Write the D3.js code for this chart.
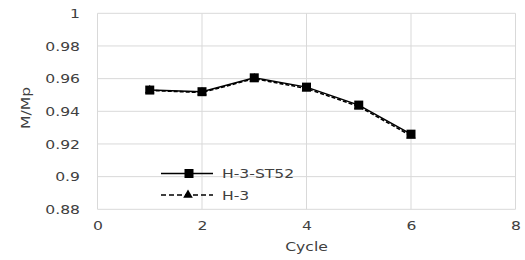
<!DOCTYPE html>
<html>
<head>
<meta charset="utf-8">
<script src="https://cdn.jsdelivr.net/npm/d3@7"></script>
<style>
  body { margin: 0; background: #fff; }
  svg { font-family: "DejaVu Sans", sans-serif; }
</style>
</head>
<body>
<svg width="525" height="260"></svg>
<script>
// данные графика
const cycles = [1, 2, 3, 4, 5, 6];
const h3st52 = [0.953, 0.952, 0.9605, 0.9548, 0.9438, 0.926];
const h3 = [0.9528, 0.9515, 0.960, 0.954, 0.943, 0.925];
const seriesNames = ["H-3-ST52", "H-3"];
const xTicks = [0, 2, 4, 6, 8];
const yTicks = [0.88, 0.9, 0.92, 0.94, 0.96, 0.98, 1];

const svg = d3.select("svg");
const area = { left: 97.5, right: 515.5, top: 13.3, bottom: 209.3 };
const txtColor = "#404040";
const stretch = 1.2; // шрифт в оригинале шире

const scX = d3.scaleLinear().domain([0, 8]).range([area.left, area.right]);
const scY = d3.scaleLinear().domain([0.88, 1]).range([area.bottom, area.top]);

// сетка
svg.append("g")
  .selectAll("line")
  .data(yTicks)
  .enter()
  .append("line")
  .attr("x1", area.left).attr("x2", area.right)
  .attr("y1", d => scY(d)).attr("y2", d => scY(d))
  .style("stroke", "#d9d9d9").style("stroke-width", 1);

svg.append("g")
  .selectAll("line")
  .data(xTicks)
  .enter()
  .append("line")
  .attr("x1", d => scX(d)).attr("x2", d => scX(d))
  .attr("y1", area.top).attr("y2", area.bottom)
  .style("stroke", "#d9d9d9").style("stroke-width", 1);

// подписи осей
const axisX = d3.axisBottom(scX).tickValues(xTicks).tickSize(0).tickPadding(11).tickFormat(d3.format("d"));
const axisY = d3.axisLeft(scY).tickValues(yTicks).tickSize(0).tickPadding(14.6).tickFormat(d => String(+d.toFixed(2)));

const gx = svg.append("g").attr("transform", `translate(0, ${area.bottom})`).call(axisX);
const gy = svg.append("g").attr("transform", `translate(${area.left}, 0)`).call(axisY);
[gx, gy].forEach(g => {
  g.select(".domain").remove();
  g.selectAll("text").style("font-size", "13px").style("fill", txtColor)
    .style("font-family", "'DejaVu Sans', sans-serif")
    .attr("transform", `scale(${stretch},1)`);
});

svg.append("text")
  .attr("transform", `translate(${(area.left + area.right) / 2}, 251) scale(${stretch},1)`)
  .attr("text-anchor", "middle")
  .style("font-size", "13px").style("fill", txtColor)
  .text("Cycle");

svg.append("text")
  .attr("transform", `translate(30, 108) rotate(-90) scale(${stretch},1)`)
  .attr("text-anchor", "middle")
  .style("font-size", "13px").style("fill", txtColor)
  .text("M/Mp");

// линии
const line = vals => d3.line().x((d, i) => scX(cycles[i])).y(d => scY(d))(vals);

svg.append("path")
  .attr("d", line(h3))
  .style("fill", "none").style("stroke", "#000").style("stroke-width", 1.6)
  .style("stroke-dasharray", "4,2");

svg.append("path")
  .attr("d", line(h3st52))
  .style("fill", "none").style("stroke", "#000").style("stroke-width", 1.5);

const tri = d3.symbol().type(d3.symbolTriangle).size(40);

svg.selectAll(".tri")
  .data(h3)
  .enter()
  .append("path")
  .attr("d", tri)
  .attr("transform", (d, i) => `translate(${scX(cycles[i])}, ${scY(d)})`)
  .style("fill", "#000");

const s = 9;
svg.selectAll(".sq")
  .data(h3st52)
  .enter()
  .append("rect")
  .attr("x", (d, i) => scX(cycles[i]) - s / 2)
  .attr("y", d => scY(d) - s / 2)
  .attr("width", s).attr("height", s)
  .style("fill", "#000");

// легенда
const leg = svg.append("g");
const legY = [173.5, 195];
legY.forEach((y, k) => {
  leg.append("line")
    .attr("x1", 161).attr("x2", 213).attr("y1", y).attr("y2", y)
    .style("stroke", "#000").style("stroke-width", 1.5)
    .style("stroke-dasharray", k === 1 ? "5,3" : null);
  if (k === 0) {
    leg.append("rect").attr("x", 189 - s / 2).attr("y", y - s / 2)
      .attr("width", s).attr("height", s).style("fill", "#000");
  } else {
    leg.append("path").attr("d", tri)
      .attr("transform", `translate(188, ${y})`).style("fill", "#000");
  }
  leg.append("text")
    .attr("transform", `translate(222, ${y + 4.5}) scale(${stretch},1)`)
    .style("font-size", "13px").style("fill", txtColor)
    .text(seriesNames[k]);
});
</script>
</body>
</html>
